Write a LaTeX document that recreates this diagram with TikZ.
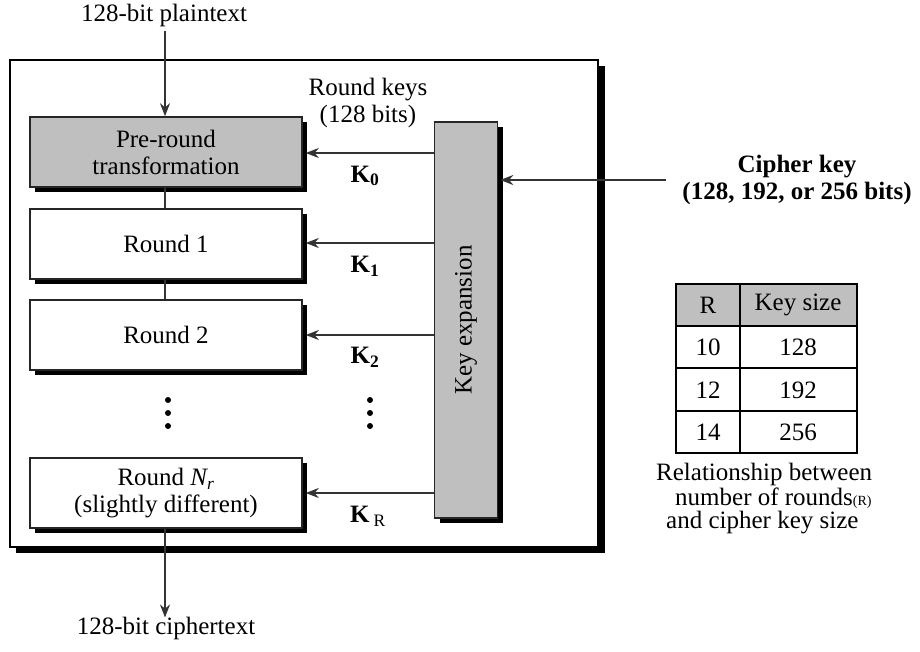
\documentclass[tikz,border=0pt]{standalone}
\usepackage{fontspec}
\setmainfont{Liberation Serif}
\usetikzlibrary{arrows.meta,shadows}
\begin{document}
\begin{tikzpicture}[x=1pt,y=-1pt,
  every node/.style={font=\fontsize{25}{27}\selectfont, inner sep=0pt},
  conn/.style={draw=black!80, line width=2pt},
  arr/.style={conn, -{Stealth[length=13pt,width=10pt]}},
  shad/.style={drop shadow={shadow xshift=5pt, shadow yshift=-5pt, fill=black, opacity=1}},
  roundbox/.style={draw=black!85, line width=1.6pt, fill=white, minimum width=272pt, minimum height=70pt, align=center, shad},
  greybox/.style={roundbox, fill=black!25},
  lbl/.style={align=center},
  keylbl/.style={font=\fontsize{25}{27}\selectfont\bfseries}
]
\useasboundingbox (0,0) rectangle (920,651);
% outer frame with shadow
\fill[black] (16,66) rectangle (605,553);
\draw[fill=white, line width=1.8pt] (10,60) rectangle (598,547);

\node[lbl] (pt) at (164,15) {128-bit plaintext};
\node[greybox] (pre) at (166,152) {Pre-round\\transformation};
\node[roundbox] (r1) at (166,244) {Round 1};
\node[roundbox] (r2) at (166,335) {Round 2};
\node[roundbox] (rn) at (166,493) {Round \textit{N\textsubscript{r}}\\(slightly different)};
\node[lbl] (ct) at (166,628) {128-bit ciphertext};

\node[draw=black!85, line width=1.6pt, fill=black!25, minimum width=63pt, minimum height=396pt, shad] (kx) at (466,320) {};
\node[rotate=90] (kxl) at (kx.center) {Key expansion};

\node[lbl] (rk) at (368,103) {Round keys\\(128 bits)};

% connectors
\coordinate (ptb) at (165,31);
\draw[arr] (ptb) -- (pre.north -| ptb);
\draw[conn] (pre.south -| ptb) -- (r1.north -| ptb);
\draw[conn] (r1.south -| ptb) -- (r2.north -| ptb);
\draw[arr] (rn.south -| ptb) -- ([yshift=-1pt]ct.north -| ptb);

\coordinate (a0) at (434,153);
\coordinate (a1) at (434,243);
\coordinate (a2) at (434,335);
\coordinate (aR) at (434,493);
\draw[arr] (a0) -- ([xshift=3pt]a0 -| pre.east);
\draw[arr] (a1) -- ([xshift=3pt]a1 -| r1.east);
\draw[arr] (a2) -- ([xshift=3pt]a2 -| r2.east);
\draw[arr] (aR) -- ([xshift=3pt]aR -| rn.east);

\node[keylbl] (k0) at (365,176) {K\textsubscript{0}};
\node[keylbl] (k1) at (365,266) {K\textsubscript{1}};
\node[keylbl] (k2) at (365,357) {K\textsubscript{2}};
\node[keylbl] (kR) at (368,516) {K\,\textmd{\textsubscript{R}}};

% dots
\foreach \x in {168,370}{
  \foreach \y in {400,413,426}{
    \fill (\x,\y) circle (3pt);
  }
}

% cipher key
\node[keylbl, align=center] (ck) at (797,180) {Cipher key\\(128, 192, or 256 bits)};
\coordinate (cks) at (666,180);
\draw[arr] (cks) -- ([xshift=2pt]cks -| kx.east);

% table
\fill[black!25] (676,284) rectangle (857,326);
\draw[line width=1.5pt] (676,284) rectangle (857,453);
\draw[line width=1.5pt] (676,326) -- (857,326);
\draw[line width=1.5pt] (676,368) -- (857,368);
\draw[line width=1.5pt] (676,411) -- (857,411);
\draw[line width=1.5pt] (740,284) -- (740,453);
\node (h1) at (708,305) {R};
\node (h2) at (798,305) {Key size};
\node (c11) at (708,347) {10};
\node (c12) at (798,347) {128};
\node (c21) at (708,390) {12};
\node (c22) at (798,390) {192};
\node (c31) at (708,432) {14};
\node (c32) at (798,432) {256};

\node[anchor=west] (cap1) at (656,474) {Relationship between};
\node[anchor=west] (cap2) at (675,498) {number of rounds{\fontsize{14}{14}\selectfont(R)}};
\node[anchor=west] (cap3) at (666,523) {and cipher key size};
\end{tikzpicture}
\end{document}
